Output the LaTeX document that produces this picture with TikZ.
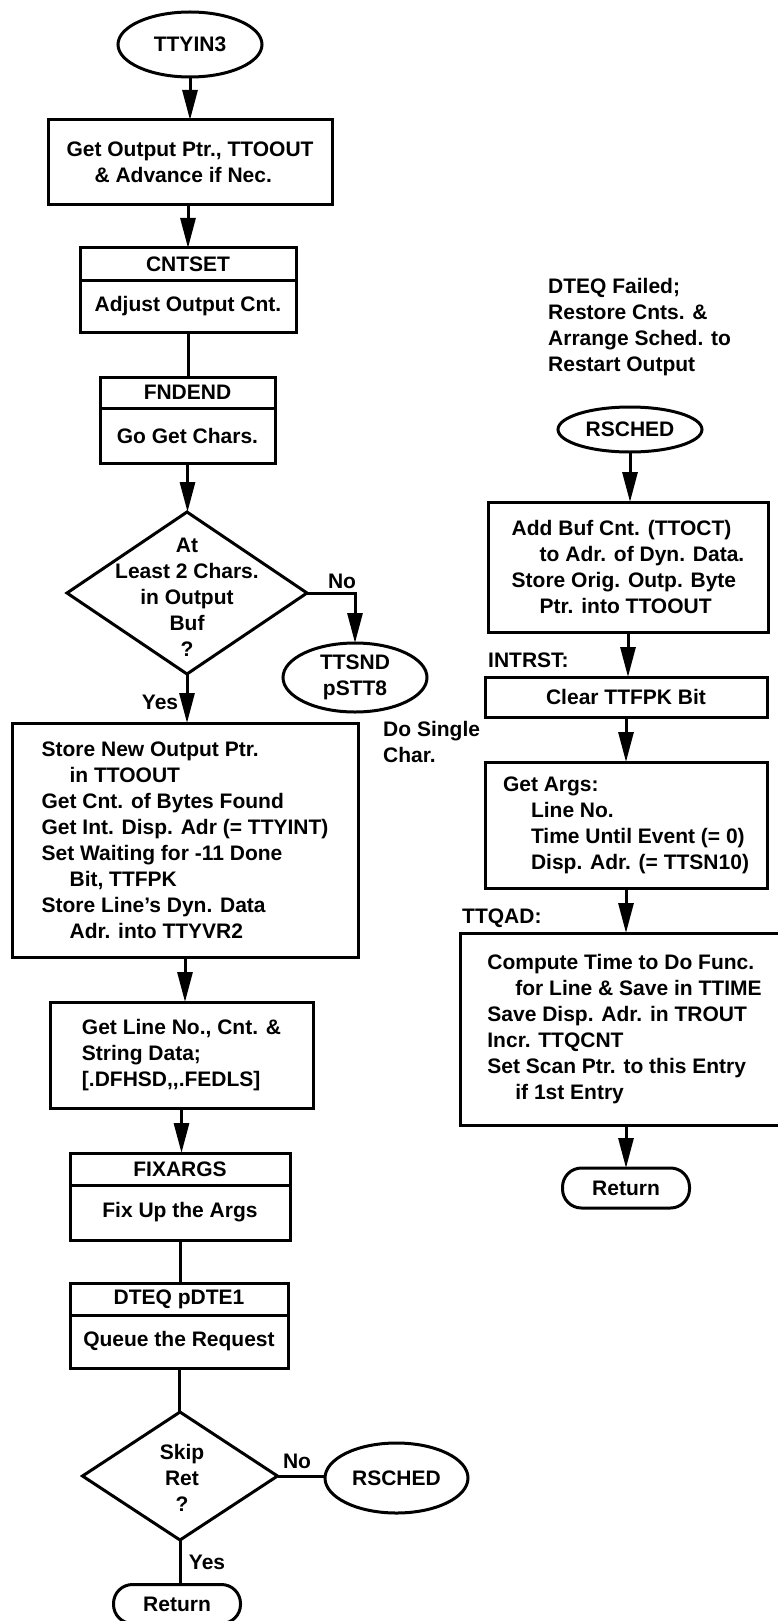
\documentclass[tikz,border=0pt]{standalone}
\usepackage{fontspec}
\setmainfont{Liberation Sans}
\usetikzlibrary{shapes.geometric,arrows.meta}

\tikzset{
    procbox/.style={draw, line width=3pt, inner sep=0pt, outer sep=0pt, align=left},
    termnode/.style={draw, ellipse, line width=3pt, inner sep=0pt, outer sep=0pt, align=center},
    retbox/.style={draw, rounded corners=19pt, line width=3pt, outer sep=0pt, minimum width=127pt, minimum height=39pt},
    decision/.style={draw, diamond, line width=3pt, inner sep=0pt, outer sep=0pt},
    flow/.style={line width=3pt, -{Triangle[length=30pt, width=15pt]}},
    link/.style={line width=3pt},
    note/.style={inner sep=0pt, align=left}
}
\newcommand{\indln}{\hspace*{28pt}}

\begin{document}
\begin{tikzpicture}[x=1pt, y=-1pt, font=\fontsize{21}{26}\selectfont\bfseries]
    \useasboundingbox (0,0) rectangle (778,1621);

    % main entry, left column
    \node[termnode, minimum width=144pt, minimum height=65pt] (ttyin) at (190,44.5) {TTYIN3};
    \node[procbox, minimum width=284pt, minimum height=85pt] (outptr) at (190,162.5)
        {Get Output Ptr., TTOOUT\\\indln\& Advance if Nec.};

    \node[procbox, minimum width=216pt, minimum height=32pt, anchor=north] (cnthd) at (188,248) {CNTSET};
    \node[procbox, minimum width=216pt, minimum height=52pt, anchor=north] (cntset) at (cnthd.south) {Adjust Output Cnt.};

    \node[procbox, minimum width=175pt, minimum height=31pt, anchor=north] (fndhd) at (187.5,377) {FNDEND};
    \node[procbox, minimum width=175pt, minimum height=55pt, anchor=north] (fndend) at (fndhd.south) {Go Get Chars.};

    \node[decision, minimum width=240pt, minimum height=162pt] (buf) at (187,593) {};
    \node[note, align=center] (bufq) at (187,597) {At\\Least 2 Chars.\\in Output\\Buf\\?};

    \node[termnode, minimum width=144pt, minimum height=69pt] (ttsnd) at (355,677.5) {TTSND\\pSTT8};
    \node[note, anchor=west] (single) at (383,741.5) {Do Single\\Char.};

    \node[procbox, minimum width=346pt, minimum height=234pt] (store) at (185,840)
        {Store New Output Ptr.\\\indln in TTOOUT\\Get Cnt. of Bytes Found\\Get Int. Disp. Adr (= TTYINT)\\Set Waiting for -11 Done\\\indln Bit, TTFPK\\Store Line's Dyn. Data\\\indln Adr. into TTYVR2};

    \node[procbox, minimum width=263pt, minimum height=106pt] (getline) at (181.5,1055)
        {Get Line No., Cnt. \&\\String Data;\\{}[.DFHSD,{},.FEDLS]};

    \node[procbox, minimum width=220pt, minimum height=32pt, anchor=north] (fixhd) at (180,1153) {FIXARGS};
    \node[procbox, minimum width=220pt, minimum height=55pt, anchor=north] (fixargs) at (fixhd.south) {Fix Up the Args};

    \node[procbox, minimum width=218pt, minimum height=32pt, anchor=north] (dteqhd) at (179,1283) {DTEQ pDTE1};
    \node[procbox, minimum width=218pt, minimum height=53pt, anchor=north] (dteq) at (dteqhd.south) {Queue the Request};

    \node[decision, minimum width=195pt, minimum height=128pt] (skip) at (180,1476) {};
    \node[note, align=center] (skipq) at (182,1478) {Skip\\Ret\\?};

    \node[termnode, minimum width=143pt, minimum height=70pt] (rsched) at (396.5,1478) {RSCHED};
    \node[retbox] (ret) at (177,1604) {Return};

    % restart path, right column
    \node[note, anchor=west] (failed) at (548,327.5) {DTEQ Failed;\\Restore Cnts. \&\\Arrange Sched. to\\Restart Output};
    \node[termnode, minimum width=144pt, minimum height=45pt] (rsch) at (630,429.5) {RSCHED};

    \node[procbox, minimum width=280pt, minimum height=130pt] (addbuf) at (628,567)
        {Add Buf Cnt. (TTOCT)\\\indln to Adr. of Dyn. Data.\\Store Orig. Outp. Byte\\\indln Ptr. into TTOOUT};

    \node[procbox, minimum width=282pt, minimum height=40pt] (clear) at (626,697) {Clear TTFPK Bit};
    \node[note, anchor=west] (intrst) at (488,660) {INTRST:};

    \node[procbox, minimum width=282pt, minimum height=126pt] (getargs) at (626,825)
        {Get Args:\\\indln Line No.\\\indln Time Until Event (= 0)\\\indln Disp. Adr. (= TTSN10)};

    \node[note, anchor=west] (ttqadlbl) at (462,918) {TTQAD:};
    \node[procbox, minimum width=329pt, minimum height=192pt] (ttqad) at (624.5,1029)
        {Compute Time to Do Func.\\\indln for Line \& Save in TTIME\\Save Disp. Adr. in TROUT\\Incr. TTQCNT\\Set Scan Ptr. to this Entry\\\indln if 1st Entry};

    \node[retbox, minimum height=40pt] (ret2) at (626,1188) {Return};

    % connectors
    \draw[flow] (ttyin) -- (ttyin |- outptr.north);
    \draw[flow] (outptr.south -| cnthd) -- (cnthd.north);
    \draw[link] (cntset.south) -- (cntset.south |- fndhd.north);
    \draw[flow] (fndend.south) -- (fndend.south |- buf.north);
    \draw[flow] (buf.east) -| (ttsnd.north);
    \node[note] (no1) at (342,581) {No};
    \draw[flow] (buf.south) -- (buf.south |- store.north);
    \node[note] (yes1) at (160,702) {Yes};
    \draw[flow] (store.south) -- (store.south |- getline.north);
    \draw[flow] (getline.south) -- (getline.south |- fixhd.north);
    \draw[link] (fixargs.south) -- (fixargs.south |- dteqhd.north);
    \draw[link] (dteq.south) -- (dteq.south |- skip.north);
    \draw[link] (skip.east) -- (skip.east -| rsched.west);
    \node[note] (no2) at (297,1461) {No};
    \draw[link] (skip.south) -- (skip.south |- ret.north);
    \node[note] (yes2) at (207,1562) {Yes};

    \draw[flow] (rsch) -- (rsch |- addbuf.north);
    \draw[flow] (addbuf.south) -- (addbuf.south |- clear.north);
    \draw[flow] (clear.south) -- (clear.south |- getargs.north);
    \draw[flow] (getargs.south) -- (getargs.south |- ttqad.north);
    \draw[flow] (ttqad.south -| ret2) -- (ret2.north);
\end{tikzpicture}
\end{document}
